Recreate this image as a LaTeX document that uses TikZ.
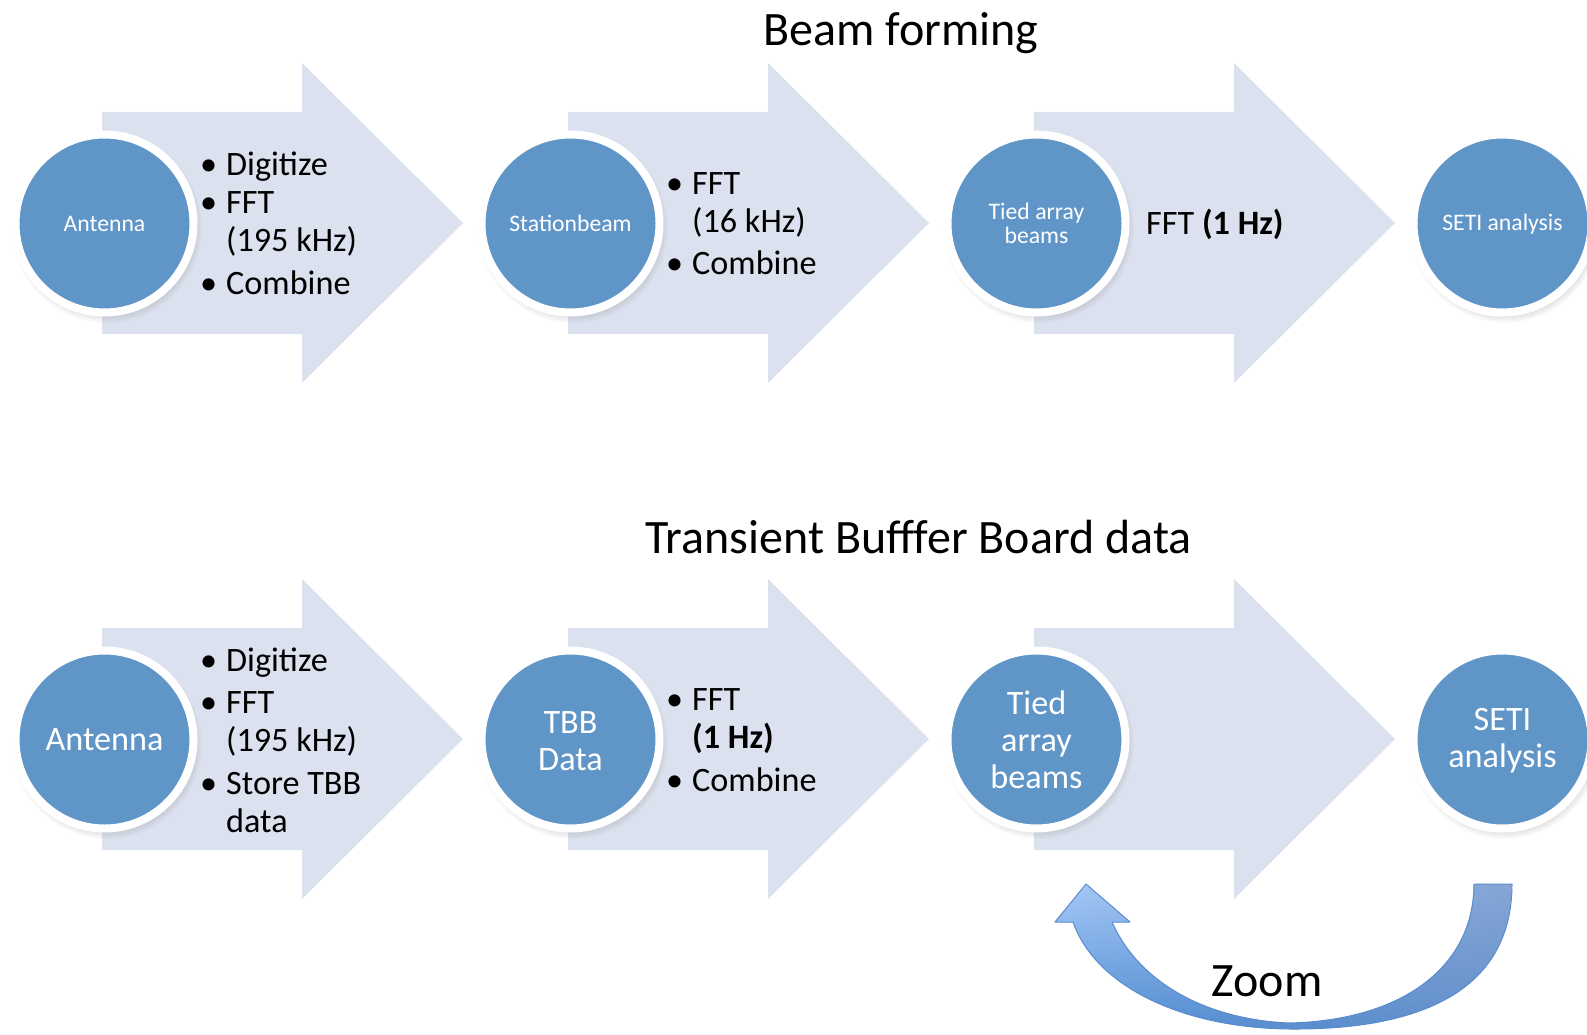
\documentclass[tikz,border=0pt]{standalone}
\usepackage{fontspec}
\setmainfont{Carlito}
\usetikzlibrary{shadows,fadings}
\definecolor{arrowfill}{RGB}{219,225,238}
\definecolor{circblue}{RGB}{96,149,200}
\definecolor{zoomlight}{RGB}{166,201,247}
\definecolor{zoomdark}{RGB}{80,142,214}
\definecolor{zoomgrey}{RGB}{110,141,191}
\definecolor{zoomedge}{RGB}{90,140,205}
\newcommand{\bl}{\makebox[26pt][l]{\textbullet}}
\newcommand{\ind}{\makebox[26pt]{}}
\begin{document}
\begin{tikzpicture}[x=1pt,y=-1pt,
  procarrow/.style={fill=arrowfill},
  stage/.style={circle, fill=circblue, draw=white, line width=8pt, minimum size=178pt,
    inner sep=0pt, text=white, align=center,
    circular drop shadow={shadow scale=1.07, shadow xshift=2pt, shadow yshift=-4pt, opacity=0.4}},
  smalllbl/.style={font=\fontsize{23.7}{24.5}\selectfont},
  biglbl/.style={font=\fontsize{34.2}{37}\selectfont},
  bullets/.style={anchor=west, inner sep=0pt, align=left, font=\fontsize{34.2}{38}\selectfont},
  titletext/.style={anchor=base, inner sep=0pt, font=\fontsize{48}{50}\selectfont},
  zoomshape/.style={draw=none}]
\useasboundingbox (0,0) rectangle (1587,1035);

% process arrows
\foreach \dx in {0,466,932}{
  \foreach \dy in {0,516}{
    \fill[procarrow] (102+\dx,112+\dy) -- (302+\dx,112+\dy) -- (302+\dx,63+\dy)
      -- (463+\dx,223+\dy) -- (302+\dx,383+\dy) -- (302+\dx,334+\dy)
      -- (102+\dx,334+\dy) -- cycle;
  }
}

% titles
\node[titletext] (t1) at (901,45.5) {Beam forming};
\node[titletext] (t2) at (918.5,553.5) {Transient Bufffer Board data};

% top row circles
\node[stage, smalllbl] (a1) at (104.5,223.5) {Antenna};
\node[stage, smalllbl] (s1) at (570.5,223.5) {Stationbeam};
\node[stage, smalllbl] (b1) at (1036.5,223.5) {Tied array\\beams};
\node[stage, smalllbl] (e1) at (1502.5,223.5) {SETI analysis\vphantom{(}};

% top row texts
\node[bullets] (x1) at (200,223.5) {\bl Digitize\\ \bl FFT\\ \ind (195 kHz)\\[4.5pt] \bl Combine};
\node[bullets] (x2) at (666,223.5) {\bl FFT\\ \ind (16 kHz)\\[4.5pt] \bl Combine};
\node[bullets] (x3) at (1146,224) {FFT \textbf{(1 Hz)}};

% bottom row circles
\node[stage, biglbl] (a2) at (104.5,739.5) {Antenna};
\node[stage, biglbl] (s2) at (570.5,739.5) {TBB\vphantom{(}\\Data};
\node[stage, biglbl] (b2) at (1036.5,739.5) {Tied\\array\\beams};
\node[stage, biglbl] (e2) at (1502.5,739.5) {SETI\vphantom{(}\\analysis};

% bottom row texts
\node[bullets] (y1) at (200,740) {\bl Digitize\\[4.5pt] \bl FFT\\ \ind (195 kHz)\\[4.5pt] \bl Store TBB\\ \ind data};
\node[bullets] (y2) at (666,740) {\bl FFT\\ \ind \textbf{(1 Hz)}\\[4.5pt] \bl Combine};

% zoom curved arrow
\def\zoompath{(1512,884) .. controls (1512,985) and (1430,1030) .. (1290,1029)
  .. controls (1180,1028) and (1095,985) .. (1073,922)
  -- (1055,922) -- (1086,884) -- (1130,922) -- (1112,922)
  .. controls (1140,985) and (1210,1020) .. (1290,1023)
  .. controls (1405,1020) and (1474,965) .. (1474,884) -- cycle}
\shade[zoomshape, top color=zoomlight, bottom color=zoomdark] \zoompath;
\fill[zoomshape, zoomgrey, path fading=west, fill opacity=0.6] \zoompath;
\draw[zoomedge, line width=1pt, line join=round] \zoompath;
\node[titletext] (z) at (1267,996) {Zoom};
\end{tikzpicture}
\end{document}
